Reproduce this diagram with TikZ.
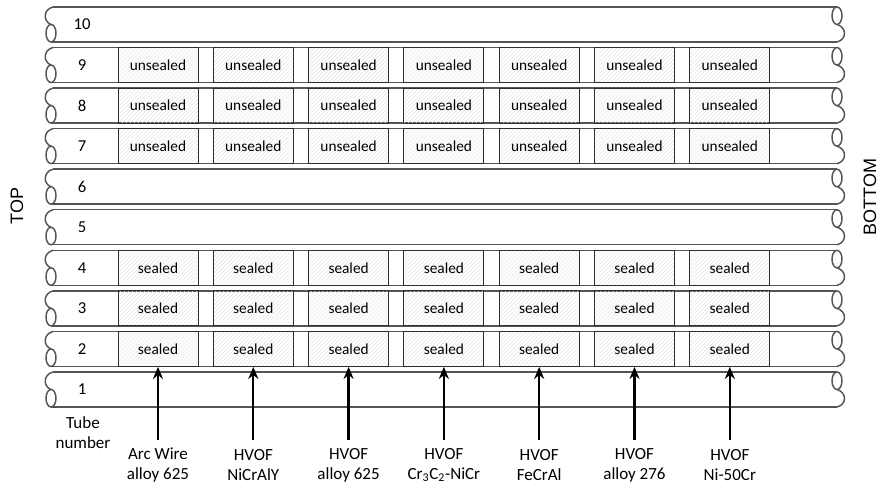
\documentclass[tikz,border=0pt]{standalone}
\usepackage{fontspec}
\setmainfont{Carlito}
\newfontfamily\sidefont{Liberation Sans}
\usepackage{tikz}
\usetikzlibrary{arrows,arrows.meta,shapes,positioning}
\usepackage{xcolor}
\definecolor{tubegray}{RGB}{85,85,85}
\definecolor{boxgray}{RGB}{45,45,45}
\definecolor{hatchgray}{RGB}{228,228,228}
\tikzstyle{tubeline} = [line width=1.1pt, draw=tubegray]
\tikzstyle{sample} = [rectangle, minimum width=60pt, minimum height=26.25pt, inner sep=0pt, text centered, draw=boxgray, line width=0.7pt, font=\fontsize{11.5}{13}\selectfont,
  path picture={\foreach \d in {-27,-24,...,60} \draw[hatchgray, line width=0.4pt] ([xshift=\d pt]path picture bounding box.south west) -- ++(30pt,30pt);}]
\tikzstyle{tubenum} = [font=\fontsize{12.5}{14}\selectfont]
\tikzstyle{coating} = [align=center, font=\fontsize{12.75}{15}\selectfont]
\tikzstyle{arrow} = [line width=1.7pt,->,>={Stealth[length=9pt,width=7.5pt]},color=black]
\tikzstyle{side} = [rotate=90, font=\sidefont\fontsize{13.5}{16}\selectfont]

\begin{document}
\begin{tikzpicture}[x=0.75pt, y=-0.75pt]
\useasboundingbox (0,0) rectangle (886,486);
% Tubes 1 (bottom) to 10 (top)
\foreach \k in {1,...,10} {
  \pgfmathsetmacro\yc{389.5-(\k-1)*40.56}
  \draw[tubeline] (53,{\yc-17.5}) -- (837,{\yc-17.5});
  \draw[tubeline] (51,{\yc+17.5}) -- (837,{\yc+17.5});
  % left break
  \draw[tubeline] (53,{\yc-17.5}) .. controls (43,{\yc-15}) and (43,{\yc-3}) .. (51,{\yc});
  \draw[tubeline] (51,{\yc+8.75}) ellipse [x radius=5, y radius=8.75];
  % right break
  \draw[tubeline] (837,{\yc-8.75}) ellipse [x radius=5, y radius=8.75];
  \draw[tubeline] (837,{\yc}) .. controls (847,{\yc+3}) and (847,{\yc+15}) .. (837,{\yc+17.5});
  \node (n\k) [tubenum] at (82,\yc) {\k};
}
% Samples
\foreach \r/\txt in {2/sealed,3/sealed,4/sealed,7/unsealed,8/unsealed,9/unsealed} {
  \foreach \c in {1,...,7} {
    \pgfmathsetmacro\yc{389.5-(\r-1)*40.56}
    \pgfmathsetmacro\xc{158+(\c-1)*95.3}
    \node (b-\r-\c) [sample] at (\xc,\yc) {\txt};
  }
}
% Coatings
\foreach \c/\top/\bot in {1/{Arc Wire}/{alloy 625}, 2/HVOF/NiCrAlY, 3/HVOF/{alloy 625}, 4/HVOF/{Cr\textsubscript{3}C\textsubscript{2}-NiCr}, 5/HVOF/FeCrAl, 6/HVOF/{alloy 276}, 7/HVOF/Ni-50Cr} {
  \pgfmathsetmacro\xc{158+(\c-1)*95.3}
  \coordinate (a\c) at (\xc,440);
  \node (lab\c) [coating] at (\xc,465) {\top\\\bot};
  \draw[arrow] (a\c) -- (b-2-\c.south);
}
\node (tubelabel) [coating] at (83,433) {Tube\\number};
\node (top) [side] at (17,206) {TOP};
\node (bottom) [side] at (870,197) {BOTTOM};
\end{tikzpicture}
\end{document}
